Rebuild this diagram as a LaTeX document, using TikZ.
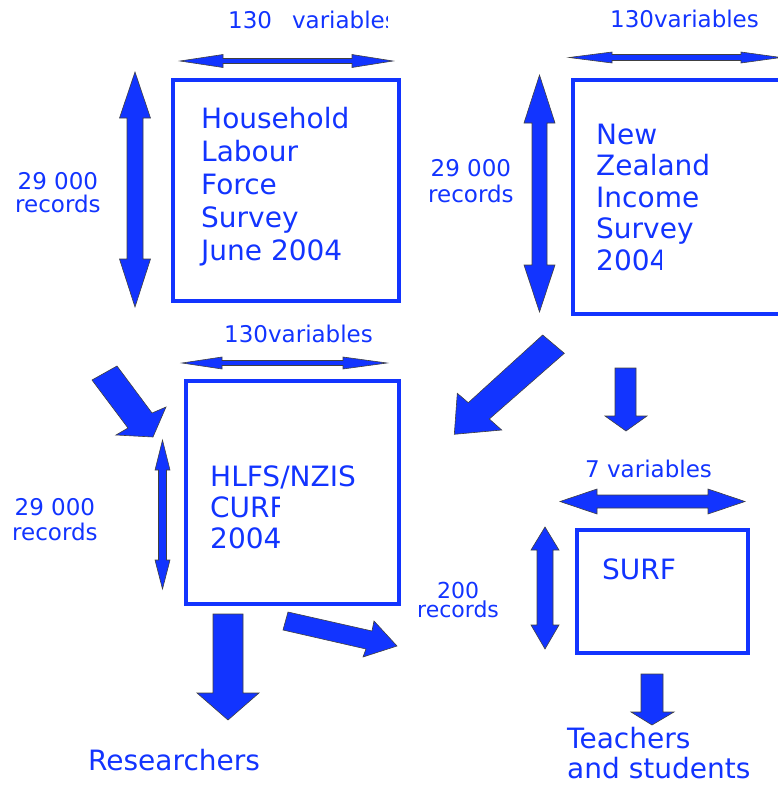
\documentclass[tikz,border=0pt]{standalone}
\usepackage{fontspec}
\setmainfont{DejaVu Sans}
\definecolor{surfblue}{RGB}{18,52,255}
\tikzset{
  box/.style={draw=surfblue, line width=3.5pt, inner sep=0pt},
  barrow/.style={fill=surfblue, draw=black!75, line width=0.6pt, line join=miter},
  title/.style={text=surfblue, font=\fontsize{28}{33}\selectfont, align=left, inner sep=0pt, anchor=base west},
  count/.style={text=surfblue, font=\fontsize{23}{24}\selectfont, align=center, inner sep=0pt, anchor=base west},
}
\begin{document}
\begin{tikzpicture}[x=1pt, y=-1pt]
   \useasboundingbox (0,0) rectangle (778,785);
   \clip (0,0) rectangle (778,785);

   % the four data sets
   \node[box, anchor=north west, minimum width=226pt, minimum height=221pt] (hlfs) at (171,78) {};
   \node[box, anchor=north west, minimum width=229pt, minimum height=234pt] (nzis) at (571,78) {};
   \node[box, anchor=north west, minimum width=213pt, minimum height=223pt] (curf) at (184,379) {};
   \node[box, anchor=north west, minimum width=171pt, minimum height=123pt] (surf) at (575,528) {};

   % base anchor sits on the last line
   \node[title] (hlfstext) at (201,260) {Household\\Labour\\Force\\Survey\\June 2004};
   \begin{scope}
      \clip (0,0) -- (778,0) -- (778,248) -- (661,248) -- (661,785) -- (0,785) -- cycle;
      \node[title, font=\fontsize{28}{31.5}\selectfont] (nzistext) at (596,270) {New\\Zealand\\Income\\Survey\\2004};
   \end{scope}
   \begin{scope}
      \clip (0,0) -- (778,0) -- (778,492) -- (279,492) -- (279,785) -- (0,785) -- cycle;
      \node[title, font=\fontsize{28}{31}\selectfont] (curftext) at (210,548) {HLFS/NZIS\\CURF\\2004};
   \end{scope}
   \node[title] (surftext) at (602,579) {SURF};

   % sizes
   \begin{scope}
      \clip (0,0) rectangle (387,50);
      \node[count] (hlfsvars) at (228,28) {130\hspace{20pt}variables};
   \end{scope}
   \begin{scope}
      \clip (0,150) rectangle (99,230);
      \node[count, font=\fontsize{23}{23}\selectfont] (hlfsrecs) at (15,212) {29 000\\records};
   \end{scope}
   \node[count] (nzisvars) at (610,27) {130variables};
   \begin{scope}
      \clip (400,140) rectangle (514,230);
      \node[count, font=\fontsize{23}{26}\selectfont] (nzisrecs) at (428,202) {29 000\\records};
   \end{scope}
   \node[count] (curfvars) at (224,342) {130variables};
   \begin{scope}
      \clip (0,480) rectangle (97,560);
      \node[count, font=\fontsize{23}{25}\selectfont] (curfrecs) at (12,540) {29 000\\records};
   \end{scope}
   \node[count] (surfvars) at (585,477) {7 variables};
   \begin{scope}
      \clip (400,570) rectangle (505,640);
      \node[count, font=\fontsize{22}{17}\selectfont] (surfrecs) at (417,617) {200\\records};
   \end{scope}

   % users
   \node[title] (researchers) at (88,770) {Researchers};
   \node[title, font=\fontsize{28}{30}\selectfont] (teachers) at (567,778) {Teachers\\and students};

   % double arrows for variables and records
   \filldraw[barrow] (180,61) -- (223,54.5) -- (223,58.5) -- (352,58.5) -- (352,54.5) -- (393,61) -- (352,67.5) -- (352,63.5) -- (223,63.5) -- (223,67.5) -- cycle;
   \filldraw[barrow] (135,72) -- (150.5,118) -- (143,118) -- (143,259) -- (150.5,259) -- (135,307) -- (119.5,259) -- (127,259) -- (127,118) -- (119.5,118) -- cycle;

   \filldraw[barrow] (569,57.5) -- (612,52) -- (612,54.5) -- (741,54.5) -- (741,52) -- (781,57.5) -- (741,63) -- (741,60.5) -- (612,60.5) -- (612,63) -- cycle;
   \filldraw[barrow] (539.5,75) -- (555,123) -- (547,123) -- (547,265) -- (555,265) -- (539.5,312) -- (524,265) -- (532,265) -- (532,123) -- (524,123) -- cycle;

   \filldraw[barrow] (182,363) -- (222,357) -- (222,360.5) -- (343,360.5) -- (343,357) -- (387,363) -- (343,369) -- (343,365.5) -- (222,365.5) -- (222,369) -- cycle;
   \filldraw[barrow] (162.5,440) -- (170,470) -- (166.5,470) -- (166.5,560) -- (170,560) -- (162.5,589) -- (155,560) -- (158.5,560) -- (158.5,470) -- (155,470) -- cycle;

   \filldraw[barrow] (560,501.5) -- (597,489) -- (597,495) -- (708,495) -- (708,489) -- (745,501.5) -- (708,514) -- (708,508) -- (597,508) -- (597,514) -- cycle;
   \filldraw[barrow] (545,527) -- (559,550) -- (553,550) -- (553,625) -- (559,625) -- (545,649) -- (531,625) -- (537,625) -- (537,550) -- (531,550) -- cycle;

   % flow arrows
   \filldraw[barrow] (117,366) -- (152,413) -- (166,407) -- (153,437) -- (116,435) -- (128,428) -- (92,380) -- cycle;
   \filldraw[barrow] (542.7,335) -- (468.3,402.7) -- (457.3,393.3) -- (454.3,434.3) -- (501.7,430) -- (489.3,419) -- (564.3,353.3) -- cycle;
   \filldraw[barrow] (615,368) -- (636,368) -- (636,416) -- (647,416) -- (626,431) -- (605,416) -- (615,416) -- cycle;
   \filldraw[barrow] (213,614) -- (243,614) -- (243,693) -- (259,693) -- (228,720) -- (197,693) -- (213,693) -- cycle;
   \filldraw[barrow] (288,612) -- (372,631) -- (374,621) -- (397,646) -- (363,657) -- (366,649) -- (283,630) -- cycle;
   \filldraw[barrow] (641,674) -- (663,674) -- (663,712) -- (674,712) -- (652,725) -- (631,712) -- (641,712) -- cycle;
\end{tikzpicture}
\end{document}
